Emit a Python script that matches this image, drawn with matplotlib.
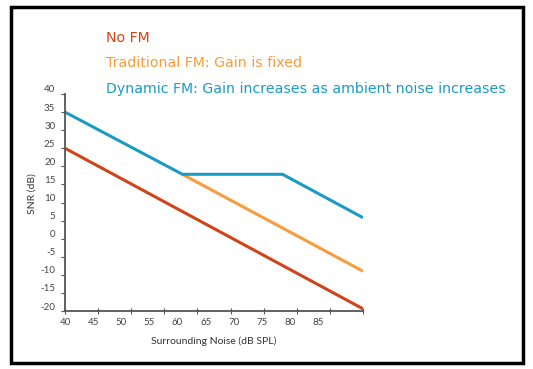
import matplotlib
matplotlib.use("Agg")
import numpy as np
import matplotlib.pyplot as plt
import matplotlib.transforms as mtransforms
from matplotlib.patches import Rectangle

plt.rcParams['axes.unicode_minus'] = False

# data
no_fm_x = [40, 90]
no_fm_y = [25, -19.4]
trad_x = [59.7, 90]
trad_y = [17.8, -9]
dyn_x = [40, 59.7, 76.5, 90]
dyn_y = [35, 17.8, 17.8, 5.8]

# the source chart has 10 tick marks over 40-90 and the labels 40..85 packed tighter
x_tick_pos = np.linspace(40, 90, 10)
x_label_pos = 40 + np.arange(10) * 4.72
x_labels = ['40', '45', '50', '55', '60', '65', '70', '75', '80', '85']
y_ticks = list(range(-20, 41, 5))

red = '#d0441a'
orange = '#f89c3c'
blue = '#1a9bc6'
axis_font = 'Lato'

fig = plt.figure(figsize=(5.33, 3.69), dpi=100)
ax = fig.add_axes([65 / 533, (369 - 311) / 369, (363 - 65) / 533, (311 - 94) / 369])

ax.plot(no_fm_x, no_fm_y, color=red, lw=2.2, solid_capstyle='butt')
ax.plot(trad_x, trad_y, color=orange, lw=2.2, solid_capstyle='butt')
ax.plot(dyn_x, dyn_y, color=blue, lw=2.2, solid_capstyle='butt')

ax.set_xlim(40, 90)
ax.set_ylim(-20, 40)
ax.xaxis.remove_overlapping_locs = False
ax.set_xticks(x_tick_pos)
ax.set_xticklabels([])
ax.set_xticks(x_label_pos, x_labels, minor=True)
ax.set_yticks(y_ticks)

for s in ['top', 'right']:
    ax.spines[s].set_visible(False)
for s in ['left', 'bottom']:
    ax.spines[s].set_color('#555555')
    ax.spines[s].set_linewidth(1.3)
ax.tick_params(axis='y', labelsize=7, colors='#555555', length=3, width=0.8,
               labelcolor='#444444', pad=4)
ax.tick_params(axis='x', which='major', direction='inout', length=5, width=0.8, colors='#555555')
ax.tick_params(axis='x', which='minor', length=0, labelsize=7, labelcolor='#444444', pad=5)

# y labels sit a few pixels above their ticks in the source
off = mtransforms.ScaledTranslation(0, 5 / 100, fig.dpi_scale_trans)
for lab in ax.get_yticklabels():
    lab.set_transform(lab.get_transform() + off)
    lab.set_family(axis_font)
for lab in ax.get_xticklabels(minor=True):
    lab.set_family(axis_font)

ax.set_xlabel('Surrounding Noise (dB SPL)', fontsize=7.5, color='#333333', labelpad=7,
              family=axis_font)
ax.set_ylabel('SNR (dB)', fontsize=7.5, color='#333333', family=axis_font)
ax.yaxis.set_label_coords(-0.097, 0.54)

# legend-like labels
fig.text(106 / 533, 1 - 38 / 369, 'No FM', color=red, fontsize=10.2, va='center')
fig.text(106 / 533, 1 - 63 / 369, 'Traditional FM: Gain is fixed', color=orange, fontsize=10.2, va='center')
fig.text(106 / 533, 1 - 89 / 369, 'Dynamic FM: Gain increases as ambient noise increases',
         color=blue, fontsize=10.2, va='center')

# black frame around the figure
fig.patches.append(Rectangle((10.5 / 533, 1 - 363 / 369), 512 / 533, 356 / 369,
                             transform=fig.transFigure, fill=False, edgecolor='black', lw=2.5))

fig.savefig('out.png', dpi=100)
